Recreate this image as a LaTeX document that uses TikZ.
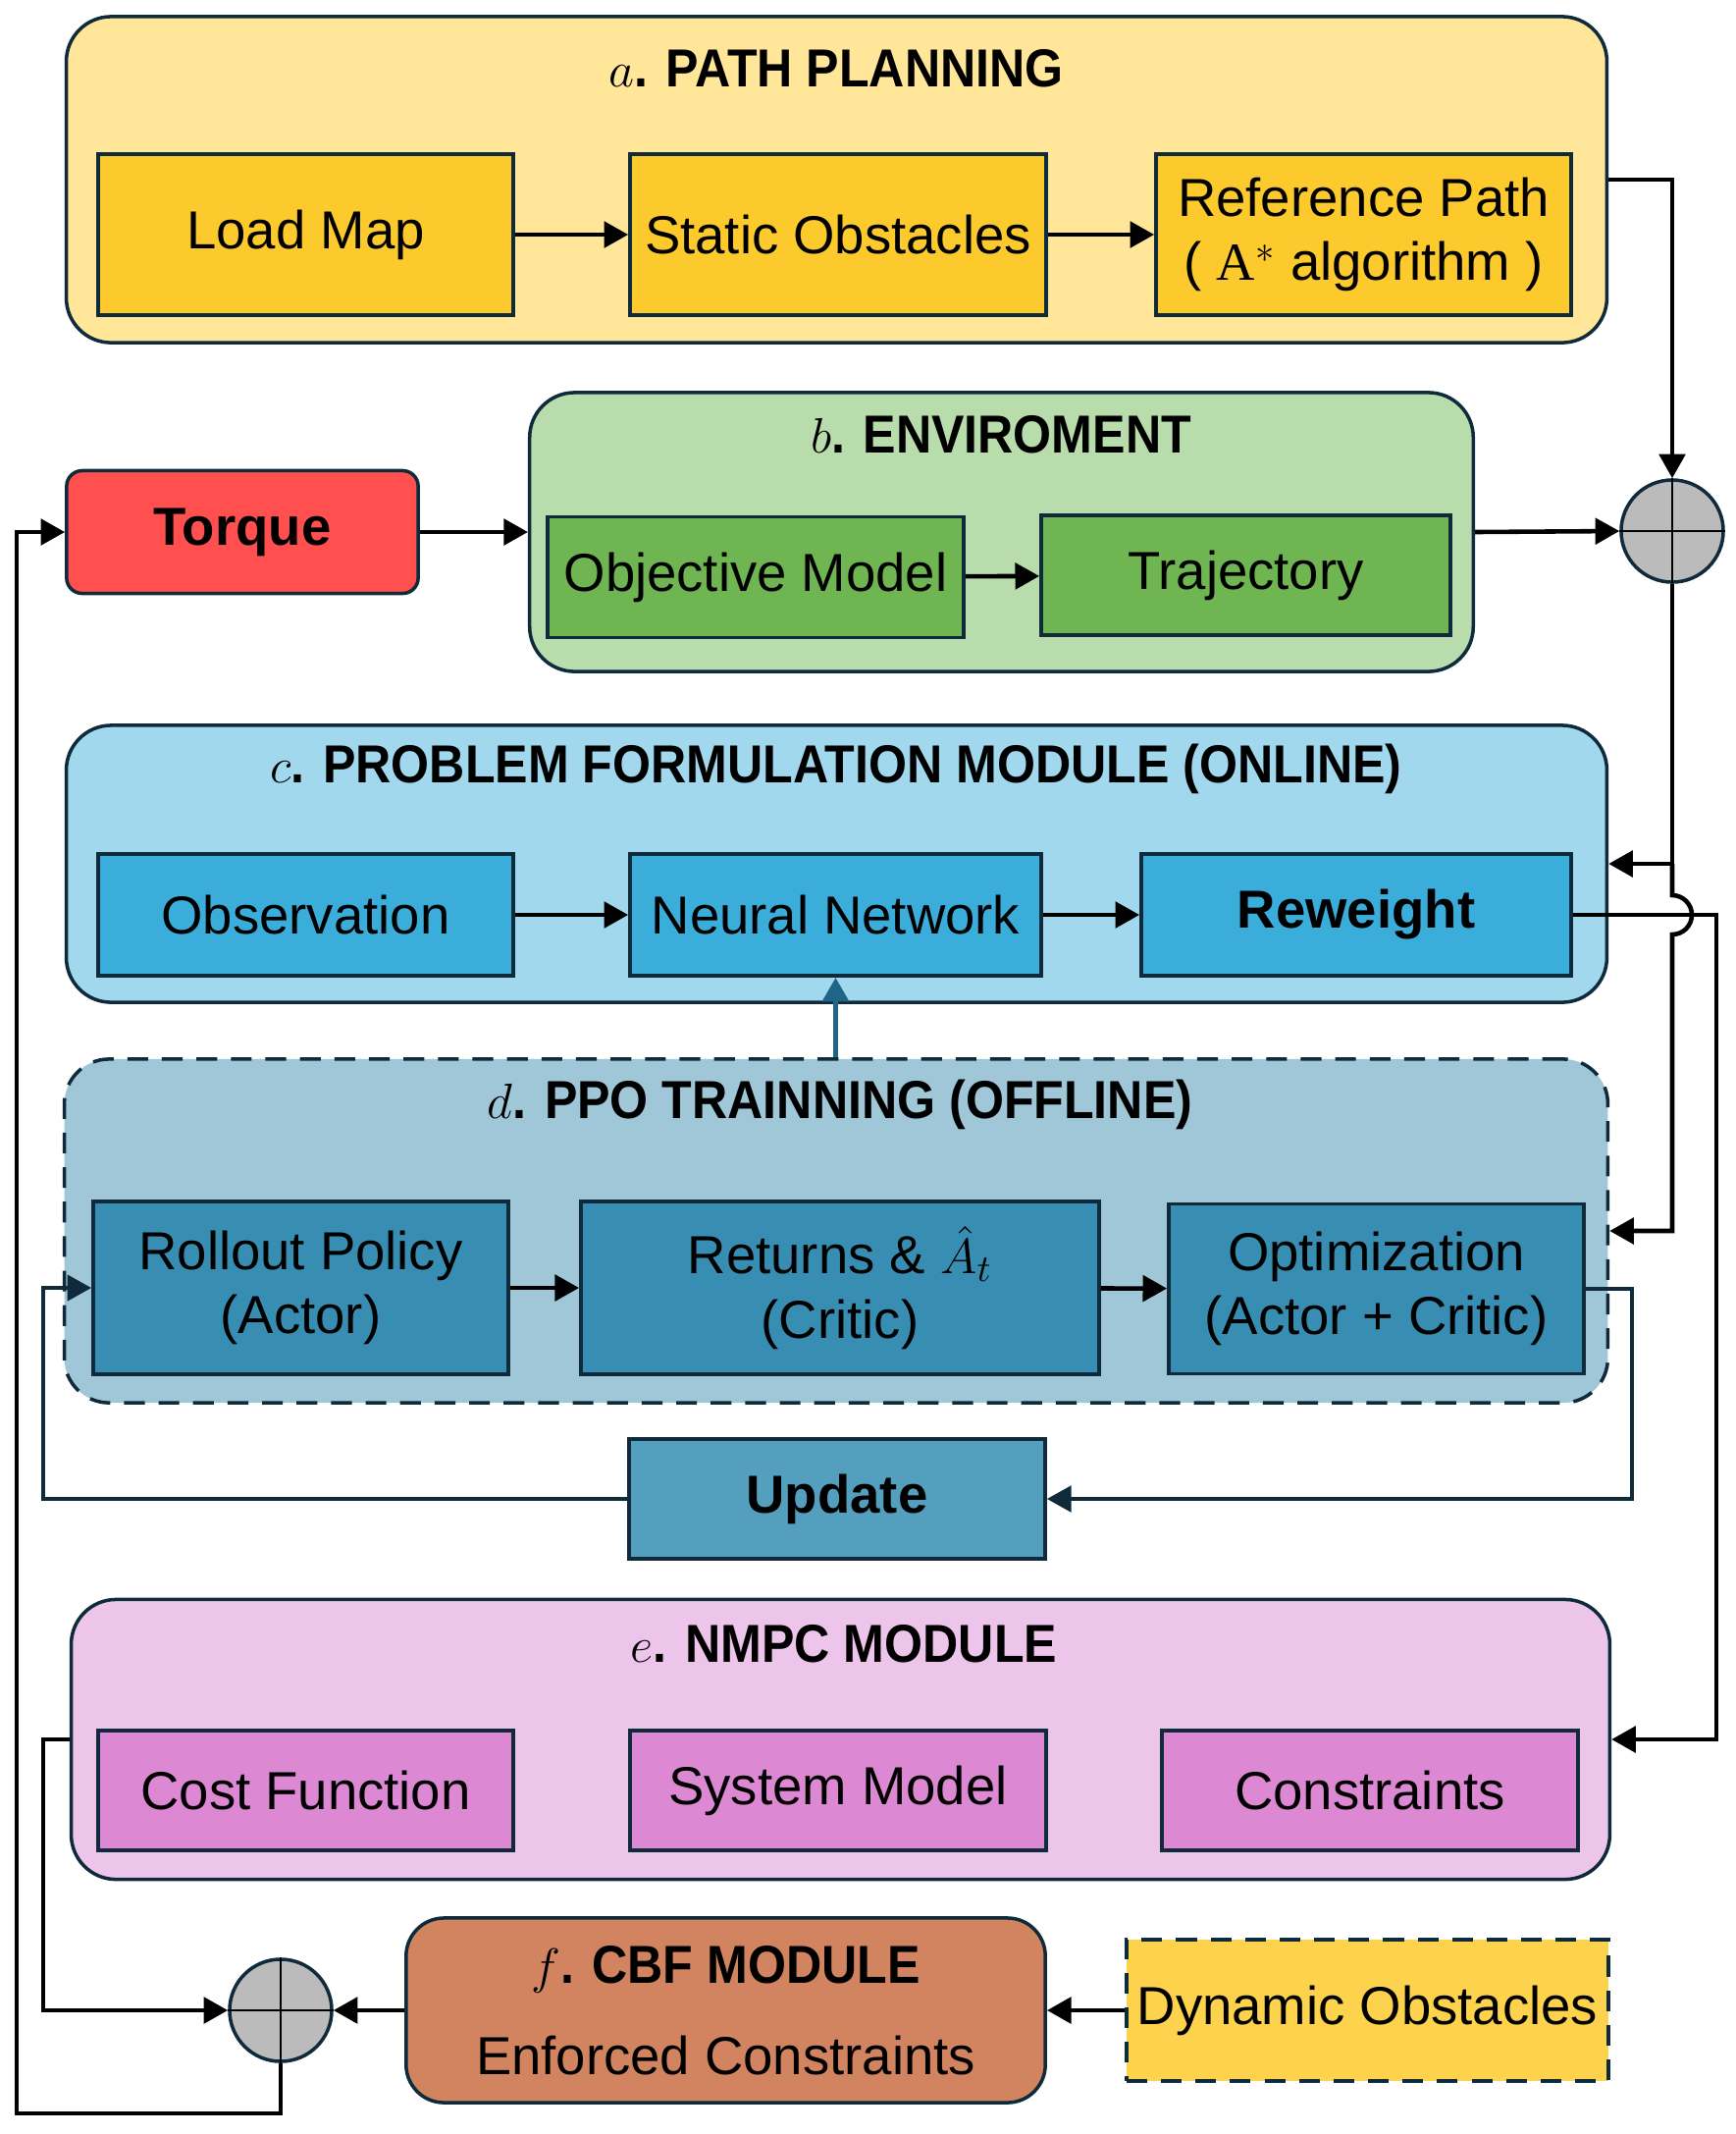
\documentclass[tikz,border=0pt]{standalone}
\usepackage{fontspec}
\setmainfont{Liberation Sans}
\newfontfamily\ttlfont[FakeStretch=0.92]{Liberation Sans}
\newfontfamily\serf{Liberation Serif}
\usetikzlibrary{arrows.meta,positioning,calc}

\definecolor{edge}{HTML}{0E2A3B}
\definecolor{ylight}{HTML}{FFE699}
\definecolor{ybox}{HTML}{FCCA2D}
\definecolor{glight}{HTML}{B9DCAC}
\definecolor{gbox}{HTML}{6FB552}
\definecolor{tqred}{HTML}{FF4F4F}
\definecolor{clight}{HTML}{A2D8EE}
\definecolor{cbox}{HTML}{3AADDB}
\definecolor{dlight}{HTML}{A0C7D8}
\definecolor{dbox}{HTML}{378EB2}
\definecolor{updc}{HTML}{559FBE}
\definecolor{elight}{HTML}{EEC5EA}
\definecolor{ebox}{HTML}{DD88D3}
\definecolor{fcol}{HTML}{D1845F}
\definecolor{dync}{HTML}{FDD24C}
\definecolor{sumc}{HTML}{BBBBBB}
\definecolor{nnarr}{HTML}{1F6588}

\begin{document}
\begin{tikzpicture}[x=0.01cm,y=-0.01cm,>={Triangle[length=7pt,width=7.5pt]}]
\tikzstyle{grp}=[draw=edge,line width=1pt,rounded corners=13pt,inner sep=0pt]
\tikzstyle{blk}=[draw=edge,line width=1pt,inner sep=2pt,align=center,font=\fontsize{15.5}{18.6}\selectfont]
\tikzstyle{ttl}=[inner sep=0pt,font=\fontsize{15.5}{18.6}\selectfont\ttlfont\bfseries]
\tikzstyle{sum}=[circle,draw=edge,line width=1pt,fill=sumc,minimum size=10.4mm,inner sep=0pt]
\tikzstyle{ar}=[->,line width=1.3pt,black]
\tikzstyle{lp}=[->,line width=1.1pt,draw=edge]
\useasboundingbox (0,0) rectangle (1769,2174);

% a. path planning
\node[grp,fill=ylight,minimum width=156.9mm,minimum height=33.2mm] (ga) at (852.5,183) {};
\node[ttl] (ta) at (852,70) {$a$. PATH PLANNING};
\node[blk,fill=ybox,minimum width=42.3mm,minimum height=16.4mm] (lm) at (311.5,239) {Load Map};
\node[blk,fill=ybox,minimum width=42.4mm,minimum height=16.4mm] (so) at (854,239) {Static Obstacles};
\node[blk,fill=ybox,minimum width=42.3mm,minimum height=16.4mm] (rp) at (1389.5,239) {Reference Path\\( {\serf A}$^{*}$ algorithm )};

% b. enviroment
\node[grp,fill=glight,minimum width=96.1mm,minimum height=28.4mm] (gb) at (1020.5,542) {};
\node[ttl] (tb) at (1020,443) {$b$. ENVIROMENT};
\node[blk,fill=gbox,minimum width=42.4mm,minimum height=12.3mm] (om) at (770,588) {Objective Model};
\node[blk,fill=gbox,minimum width=41.7mm,minimum height=12.2mm] (tr) at (1269.5,586) {Trajectory};
\node[grp,fill=tqred,rounded corners=4.5pt,minimum width=35.8mm,minimum height=12.5mm,font=\fontsize{15.5}{18.6}\selectfont\bfseries] (tq) at (247,542) {Torque};
\node[sum] (s1) at (1704,541) {};

% c. problem formulation
\node[grp,fill=clight,minimum width=156.9mm,minimum height=28.2mm] (gc) at (852.5,880) {};
\node[ttl] (tc) at (852,783) {$c$. PROBLEM FORMULATION MODULE (ONLINE)};
\node[blk,fill=cbox,minimum width=42.3mm,minimum height=12.4mm] (ob) at (311.5,932) {Observation};
\node[blk,fill=cbox,minimum width=41.9mm,minimum height=12.4mm] (nn) at (851.5,932) {Neural Network};
\node[blk,fill=cbox,minimum width=43.8mm,minimum height=12.4mm,font=\fontsize{15.5}{18.6}\selectfont\bfseries] (rw) at (1382,932) {Reweight};

% d. ppo training
\node[grp,dashed,dash pattern=on 6pt off 4pt,fill=dlight,minimum width=157.2mm,minimum height=35mm] (gd) at (852,1254) {};
\node[ttl] (td) at (856,1125) {$d$. PPO TRAINNING (OFFLINE)};
\node[blk,fill=dbox,minimum width=42.3mm,minimum height=17.6mm] (ro) at (306.5,1312) {Rollout Policy\\(Actor)};
\node[blk,fill=dbox,minimum width=52.8mm,minimum height=17.6mm] (re) at (856,1312) {Returns \& $\hat{A}_t$\\(Critic)};
\node[blk,fill=dbox,minimum width=42.3mm,minimum height=17.3mm] (op) at (1402.5,1313) {Optimization\\(Actor + Critic)};
\node[blk,fill=updc,minimum width=42.4mm,minimum height=12.2mm,font=\fontsize{15.5}{18.6}\selectfont\bfseries] (up) at (853,1527) {Update};

% e. nmpc
\node[grp,fill=elight,minimum width=156.7mm,minimum height=28.5mm] (ge) at (856.5,1772) {};
\node[ttl] (te) at (860,1675) {$e$. NMPC MODULE};
\node[blk,fill=ebox,minimum width=42.3mm,minimum height=12.2mm] (cf) at (311.5,1824) {Cost Function};
\node[blk,fill=ebox,minimum width=42.4mm,minimum height=12.2mm] (sm) at (854,1824) {System Model};
\node[blk,fill=ebox,minimum width=42.4mm,minimum height=12.2mm] (ct) at (1396,1824) {Constraints};

% f. cbf
\node[grp,fill=fcol,rounded corners=11pt,minimum width=65.1mm,minimum height=18.8mm,align=center,font=\fontsize{15.5}{18.6}\selectfont] (gf) at (739.5,2048) {{\ttlfont\bfseries $f$. CBF MODULE}\\[8pt]Enforced Constraints};
\node[blk,dashed,dash pattern=on 6pt off 4pt,fill=dync,minimum width=49.1mm,minimum height=14.4mm,inner sep=0pt] (dy) at (1393.5,2048) {Dynamic Obstacles};
\node[sum] (s2) at (286,2048) {};

% sum crosses
\draw[line width=0.8pt] (s1.north) -- (s1.south) (s1.west) -- (s1.east);
\draw[line width=0.8pt] (s2.north) -- (s2.south) (s2.west) -- (s2.east);

% arrows inside modules
\draw[ar] (lm) -- (so);
\draw[ar] (so) -- (rp);
\draw[ar] (om) -- (tr);
\draw[ar] (ob) -- (nn);
\draw[ar] (nn) -- (rw);
\draw[ar] (ro) -- (re);
\draw[ar] (re) -- (op);

% main loop
\draw[ar] (ga.east) -| (s1.north);
\draw[ar] (tq) -- (gb);
\draw[ar] (gb.east) -- (s1.west);
\coordinate (j1) at (s1 |- gc.east);
\coordinate (j2) at (1704,912);
\draw[ar] (s1.south) -- (j1) -- (gc.east);
\draw[ar] (j1) -- (j2) arc[start angle=-90,end angle=90,radius=20] |- (gd.east);
\coordinate (rr) at (1749,932);
\draw[ar] (rw.east) -- (rr) |- (ge.east);
\draw[->,line width=1.6pt,nnarr] (gd.north -| nn) -- (nn.south);

% update loop
\coordinate (ur) at (1663,1313);
\coordinate (ul) at (44,1312);
\draw[lp] (op.east) -- (ur) |- (up.east);
\draw[lp] (up.west) -| (ul) -- (ro.west);

% nmpc + cbf to torque
\coordinate (el) at (44,1772);
\coordinate (bl) at (17,2153);
\draw[ar] (ge.west) -- (el) |- (s2.west);
\draw[ar] (gf) -- (s2);
\draw[ar] (dy) -- (gf);
\draw[ar] (s2.south) |- (bl) |- (tq.west);
\end{tikzpicture}
\end{document}
